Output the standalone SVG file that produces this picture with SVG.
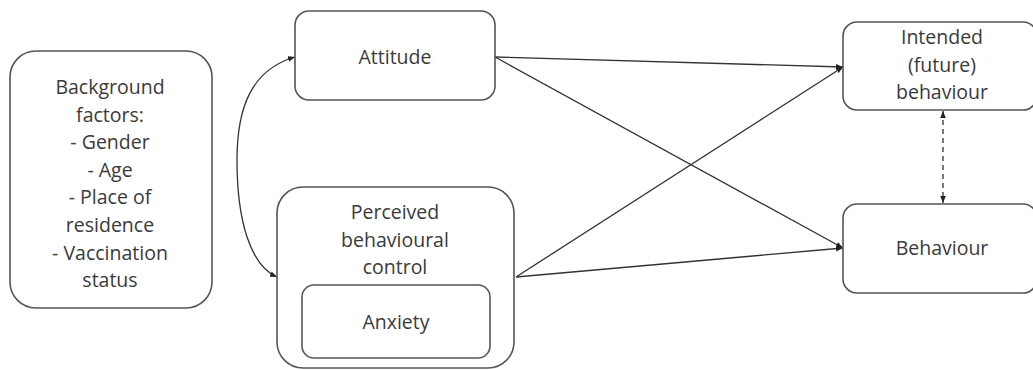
<svg xmlns="http://www.w3.org/2000/svg" width="1033" height="370" viewBox="0 0 1033 370">
<style>
.box{fill:#fff;stroke:#555;stroke-width:1.6}
.t{font-family:"Open Sans","Noto Sans",sans-serif;font-size:19.5px;fill:#3a3a3a;text-anchor:middle}
.c{fill:none;stroke:#333;stroke-width:1.3}
.d{stroke-dasharray:5 4}
</style>
<defs>
<marker id="ah" viewBox="0 0 10 10" refX="10" refY="5" markerWidth="7" markerHeight="7" orient="auto-start-reverse" markerUnits="userSpaceOnUse">
<path d="M0,1 L10,5 L0,9 z" fill="#222"/>
</marker>
</defs>
<rect width="1033" height="370" fill="#fff"/>
<g id="connectors">
<path class="c" d="M495,57 L843,67" marker-end="url(#ah)"/>
<path class="c" d="M495,57 L843,248" marker-end="url(#ah)"/>
<path class="c" d="M516,277 L843,67" marker-end="url(#ah)"/>
<path class="c" d="M516,277 L843,248" marker-end="url(#ah)"/>
<path class="c" d="M295,57 C250,70 237,110 237,160 C237,220 250,265 277,277" marker-start="url(#ah)" marker-end="url(#ah)"/>
<path class="c d" d="M943,111 L943,203" marker-start="url(#ah)" marker-end="url(#ah)"/>
</g>
<g id="background">
<rect class="box" x="10" y="51" width="202" height="257" rx="26"/>
<text class="t" x="110" y="94">Background</text>
<text class="t" x="110" y="122">factors:</text>
<text class="t" x="110" y="149">- Gender</text>
<text class="t" x="110" y="177">- Age</text>
<text class="t" x="110" y="204">- Place of</text>
<text class="t" x="110" y="232">residence</text>
<text class="t" x="110" y="260">- Vaccination</text>
<text class="t" x="110" y="287">status</text>
</g>
<g id="attitude">
<rect class="box" x="295" y="11" width="200" height="89" rx="14"/>
<text class="t" x="395" y="64">Attitude</text>
</g>
<g id="pbc">
<rect class="box" x="277" y="187" width="237" height="181" rx="26"/>
<text class="t" x="395" y="219">Perceived</text>
<text class="t" x="395" y="247">behavioural</text>
<text class="t" x="395" y="274">control</text>
</g>
<g id="anxiety">
<rect class="box" x="302" y="285" width="188" height="73" rx="12"/>
<text class="t" x="396" y="329">Anxiety</text>
</g>
<g id="intended">
<rect class="box" x="843" y="22" width="194" height="88" rx="14"/>
<text class="t" x="942" y="44">Intended</text>
<text class="t" x="942" y="72">(future)</text>
<text class="t" x="942" y="99">behaviour</text>
</g>
<g id="behaviour">
<rect class="box" x="843" y="204" width="194" height="89" rx="14"/>
<text class="t" x="942" y="255">Behaviour</text>
</g>
</svg>
